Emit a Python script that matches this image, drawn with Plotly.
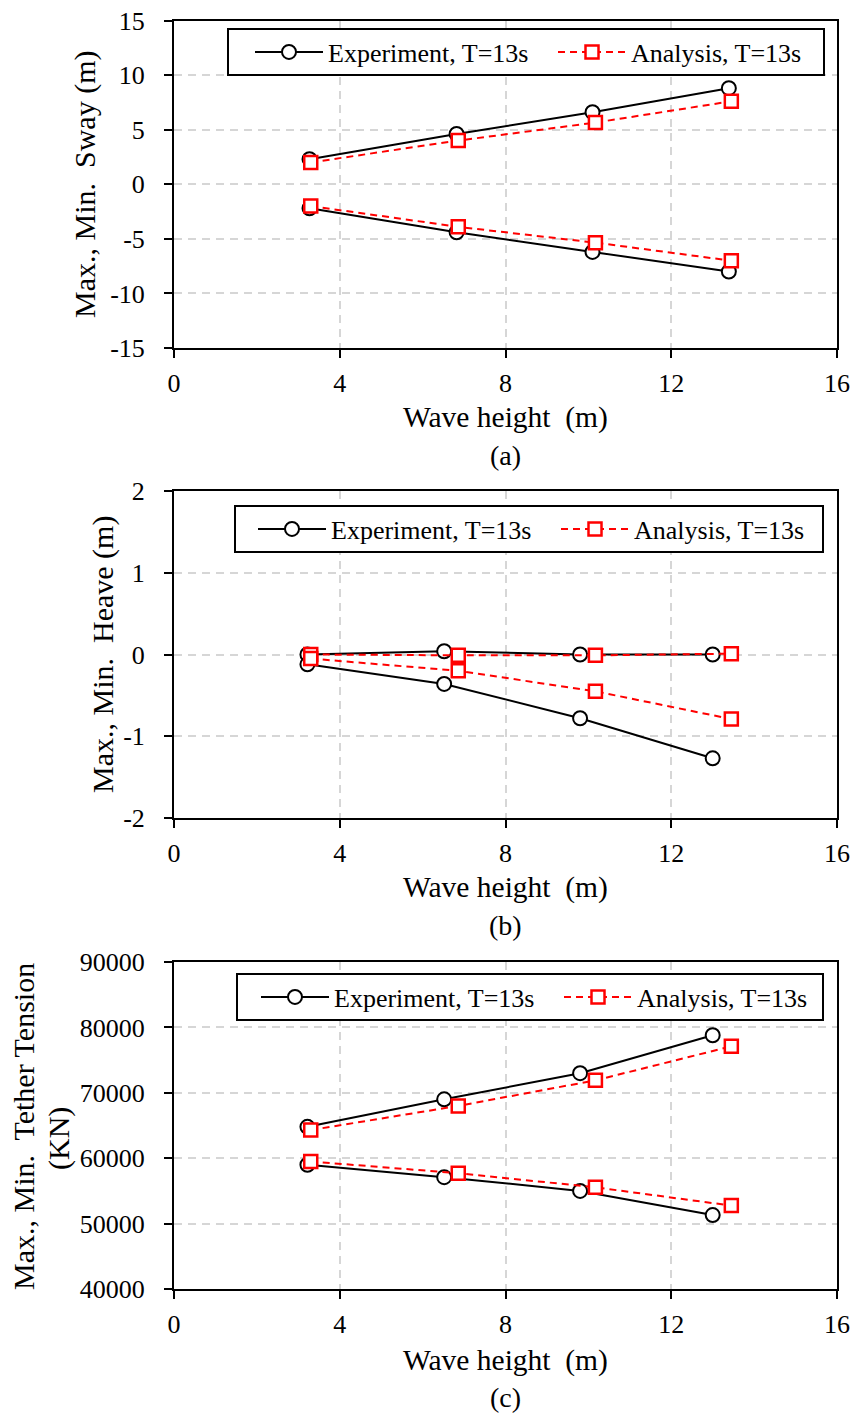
import plotly.graph_objects as go

# ---------------- data ----------------
wave_exp_a = [3.27, 6.82, 10.1, 13.39]
wave_exp_bc = [3.22, 6.52, 9.8, 13.0]
wave_ana = [3.3, 6.86, 10.17, 13.45]

sway_exp_max = [2.3, 4.6, 6.6, 8.8]
sway_exp_min = [-2.2, -4.4, -6.2, -8.0]
sway_ana_max = [2.0, 4.0, 5.65, 7.6]
sway_ana_min = [-2.0, -3.9, -5.35, -7.0]

heave_exp_max = [0.0, 0.04, 0.0, 0.0]
heave_exp_min = [-0.12, -0.36, -0.78, -1.27]
heave_ana_max = [0.0, -0.01, -0.01, 0.01]
heave_ana_min = [-0.05, -0.2, -0.45, -0.79]

tension_exp_max = [64800, 69000, 73000, 78800]
tension_exp_min = [59000, 57100, 55000, 51300]
tension_ana_max = [64300, 68000, 71900, 77100]
tension_ana_min = [59500, 57700, 55550, 52750]

x_ticks = [0, 4, 8, 12, 16]
y_ticks_a = [-15, -10, -5, 0, 5, 10, 15]
y_ticks_b = [-2, -1, 0, 1, 2]
y_ticks_c = [40000, 50000, 60000, 70000, 80000, 90000]

exp_name = "Experiment, T=13s"
ana_name = "Analysis, T=13s"
y_titles = ["Max., Min.\u00a0 Sway (m)", "Max., Min.\u00a0 Heave (m)"]
y_title_c = ["Max., Min.\u00a0 Tether Tension", "(KN)"]
x_title = "Wave height\u00a0 (m)"
captions = ["(a)", "(b)", "(c)"]

# ---------------- style ----------------
W, H = 856, 1415
FONT = "Liberation Serif"
def px(x):
    return x / W
def py(y):
    return 1 - y / H

panels = [  # plot-area pixel boxes: left, right, top, bottom
    (174, 837, 20.5, 348),
    (174, 837, 491, 818),
    (174, 837, 962, 1289),
]

fig = go.Figure()

def add_panel(i, xe, emax, emin, xa, amax, amin):
    xa_ref = "x" if i == 0 else f"x{i+1}"
    ya_ref = "y" if i == 0 else f"y{i+1}"
    leg = "legend" if i == 0 else f"legend{i+1}"
    exp_style = dict(mode="lines+markers", line=dict(color="black", width=2),
                     marker=dict(symbol="circle", size=14, color="white",
                                 line=dict(color="black", width=2)))
    ana_style = dict(mode="lines+markers", line=dict(color="red", width=2, dash="7px,5px"),
                     marker=dict(symbol="square", size=13, color="white",
                                 line=dict(color="red", width=2.5)))
    fig.add_trace(go.Scatter(x=xe, y=emax, name=exp_name, showlegend=True,
                             legendgroup="exp", xaxis=xa_ref, yaxis=ya_ref,
                             legend=leg, legendwidth=220, **exp_style))
    fig.add_trace(go.Scatter(x=xe, y=emin, name=exp_name, showlegend=False,
                             legendgroup="exp", xaxis=xa_ref, yaxis=ya_ref,
                             legend=leg, **exp_style))
    fig.add_trace(go.Scatter(x=xa, y=amax, name=ana_name, showlegend=True,
                             legendgroup="ana", xaxis=xa_ref, yaxis=ya_ref,
                             legend=leg, legendwidth=178, **ana_style))
    fig.add_trace(go.Scatter(x=xa, y=amin, name=ana_name, showlegend=False,
                             legendgroup="ana", xaxis=xa_ref, yaxis=ya_ref,
                             legend=leg, **ana_style))

add_panel(0, wave_exp_a, sway_exp_max, sway_exp_min, wave_ana, sway_ana_max, sway_ana_min)
add_panel(1, wave_exp_bc, heave_exp_max, heave_exp_min, wave_ana, heave_ana_max, heave_ana_min)
add_panel(2, wave_exp_bc, tension_exp_max, tension_exp_min, wave_ana, tension_ana_max, tension_ana_min)

axis_common = dict(
    showgrid=True, gridcolor="#d6d6d6", gridwidth=1.5, griddash="8px,6px",
    showline=True, linecolor="black", linewidth=2, mirror=True,
    ticks="outside", ticklen=8, tickwidth=2, tickcolor="black",
    zeroline=False, automargin=False,
    tickfont=dict(family=FONT, size=26, color="black"),
)

yranges = [(-15, 15, y_ticks_a), (-2, 2, y_ticks_b), (40000, 90000, y_ticks_c)]
layout = {}
for i, (l, r, t, b) in enumerate(panels):
    sfx = "" if i == 0 else str(i + 1)
    lo, hi, yt = yranges[i]
    layout[f"xaxis{sfx}"] = dict(
        axis_common, domain=[px(l), px(r)], range=[0, 16],
        tickvals=x_ticks, ticktext=[str(v) for v in x_ticks],
        anchor=f"y{sfx}", ticklabelstandoff=3,
    )
    layout[f"yaxis{sfx}"] = dict(
        axis_common, domain=[py(b), py(t)], range=[lo, hi],
        tickvals=yt, ticktext=[str(v) for v in yt],
        anchor=f"x{sfx}", ticklabelstandoff=14,
    )

# legend boxes (left, right, top, bottom) and item origin
legend_boxes = [(228, 824, 29, 75), (235, 823, 506, 552), (237, 823, 974, 1020)]
legend_origin = [250, 253, 256]
shapes = []
for i, (bl, br, bt, bb) in enumerate(legend_boxes):
    key = "legend" if i == 0 else f"legend{i+1}"
    layout[key] = dict(
        x=px(legend_origin[i]), y=py((bt + bb) / 2), xanchor="left", yanchor="middle",
        orientation="h", bgcolor="rgba(0,0,0,0)", borderwidth=0,
        font=dict(family=FONT, size=26, color="black"), itemwidth=68,
        tracegroupgap=0, itemclick=False,
    )
    shapes.append(dict(type="rect", xref="paper", yref="paper",
                       x0=px(bl), x1=px(br), y0=py(bb), y1=py(bt),
                       line=dict(color="black", width=2), fillcolor="white", layer="above"))

annotations = []
xtitle_y = [417, 887, 1360]
cap_y = [455, 925, 1397]
for i, (l, r, t, b) in enumerate(panels):
    cx = (l + r) / 2
    annotations.append(dict(text=x_title, x=px(cx), y=py(xtitle_y[i]), xref="paper", yref="paper",
                            showarrow=False, xanchor="center", yanchor="middle",
                            font=dict(family=FONT, size=29.5, color="black")))
    annotations.append(dict(text=captions[i], x=px(cx), y=py(cap_y[i]), xref="paper", yref="paper",
                            showarrow=False, xanchor="center", yanchor="middle",
                            font=dict(family=FONT, size=28, color="black")))

ytitle_pos = [(85, 185), (103, 655)]
for i, (xx, yy) in enumerate(ytitle_pos):
    annotations.append(dict(text=y_titles[i], x=px(xx), y=py(yy), xref="paper", yref="paper",
                            showarrow=False, xanchor="center", yanchor="middle", textangle=-90,
                            font=dict(family=FONT, size=30, color="black")))
for txt, xx, yy in zip(y_title_c, [23, 59], [1127, 1138]):
    annotations.append(dict(text=txt, x=px(xx), y=py(yy), xref="paper", yref="paper",
                            showarrow=False, xanchor="center", yanchor="middle", textangle=-90,
                            font=dict(family=FONT, size=30, color="black")))

fig.update_layout(
    width=W, height=H, margin=dict(l=0, r=0, t=0, b=0, autoexpand=False),
    plot_bgcolor="white", paper_bgcolor="white",
    font=dict(family=FONT, color="black"),
    annotations=annotations, shapes=shapes,
    **layout,
)

fig.write_html("out.html",
               post_script="document.body.style.margin='0';document.body.style.overflow='hidden';")
